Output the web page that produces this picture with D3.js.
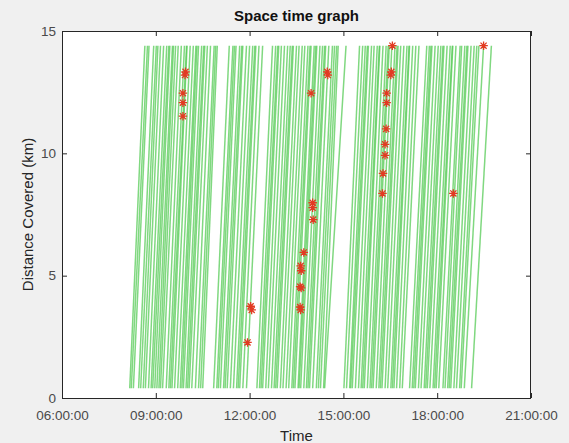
<!DOCTYPE html>
<html>
<head>
<meta charset="utf-8">
<script src="https://cdn.jsdelivr.net/npm/d3@7"></script>
<style>
  body { margin: 0; background: #f0f0f0; }
  text { font-family: "Liberation Sans", Arial, Helvetica, sans-serif; }
</style>
</head>
<body>
<svg id="chart" width="569" height="443"></svg>
<script>
// Vehicle trips: time at the start of the route and time at its end
const departures = [
  "08:10","08:13","08:17","08:27","08:31","08:36","08:40","08:46","08:51","08:54",
  "08:58","09:02","09:06","09:09","09:13","09:20","09:25","09:28","09:31","09:36",
  "09:42","09:47","09:50","09:53","09:58","10:01","10:04","10:09","10:16","10:22",
  "10:26","10:30",
  "10:51","10:57","11:00","11:04","11:10","11:13","11:17","11:23","11:29","11:35",
  "11:38","11:41","11:47","11:54",
  "12:14","12:19","12:22","12:25","12:31","12:36","12:42","12:47","12:50","12:53",
  "12:59","13:04","13:10","13:15","13:21","13:24","13:27","13:33","13:35","13:38",
  "13:44","13:49","13:52","13:55","14:01","14:08","14:12","14:16","14:22","14:24",
  "15:01","15:06","15:12","15:14","15:17","15:23","15:29","15:34","15:37","15:40",
  "15:46","15:51","15:54","15:57","16:03","16:08","16:11","16:14","16:20","16:25",
  "16:31","16:34","16:37","16:42","16:48","16:53",
  "17:07","17:12","17:15","17:18","17:24","17:29","17:35","17:38","17:41","17:46",
  "17:52","17:55","17:58","18:03","18:11","18:15","18:20","18:23","18:26","18:32",
  "18:37","18:43","18:46","18:52","19:06"
];
const arrivals = [
  "08:39","08:44","08:47","08:56","09:01","09:04","09:09","09:15","09:21","09:25",
  "09:27","09:32","09:34","09:38","09:43","09:49","09:55","09:59","10:00","10:06",
  "10:12","10:17","10:19","10:22","10:28","10:32","10:34","10:39","10:45","10:52",
  "10:55","10:58",
  "11:21","11:28","11:31","11:34","11:41","11:45","11:47","11:54","12:00","12:06",
  "12:10","12:12","12:18","12:25",
  "12:44","12:50","12:54","12:56","13:01","13:07","13:13","13:18","13:22","13:24",
  "13:30","13:35","13:41","13:46","13:52","13:56","13:58","14:04","14:07","14:09",
  "14:15","14:20","14:24","14:26","14:32","14:39","14:43","14:47","14:50","15:05",
  "15:31","15:37","15:42","15:46","15:48","15:54","15:59","16:05","16:09","16:10",
  "16:16","16:22","16:26","16:28","16:33","16:39","16:43","16:45","16:50","16:56",
  "17:02","17:06","17:07","17:13","17:19","17:25",
  "17:40","17:45","17:48","17:50","17:56","18:02","18:07","18:11","18:13","18:19",
  "18:25","18:29","18:30","18:36","18:44","18:47","18:53","18:57","18:59","19:05",
  "19:11","19:16","19:20","19:29","19:44"
];
// Route extent in km (first and last recorded positions)
const routeKm = [0.4, 14.4];

// Flagged events along the trajectories
const eventTimes = [
  "09:57","09:56","09:52","09:52","09:52",
  "11:56","12:02","12:04",
  "13:37","13:38","13:37","13:39","13:38","13:39","13:44",
  "14:01","14:01","14:02","13:58",
  "14:29","14:30",
  "16:34","16:32","16:31","16:23","16:23","16:22","16:20","16:20","16:16","16:15",
  "18:31","19:29"
];
const eventKm = [
  13.33, 13.2, 12.46, 12.07, 11.52,
  2.27, 3.75, 3.6,
  3.72, 3.6, 4.55, 4.5, 5.4, 5.2, 5.95,
  7.98, 7.78, 7.29, 12.46,
  13.33, 13.2,
  14.4, 13.33, 13.2, 12.46, 12.07, 11.0, 10.37, 9.92, 9.18, 8.36,
  8.36, 14.4
];

const timeTicks = ["06:00","09:00","12:00","15:00","18:00","21:00"];
const kmTicks = [0, 5, 10, 15];

const parseClock = d3.timeParse("%Y-%m-%d %H:%M");
const at = s => parseClock("2020-01-01 " + s);

const svg = d3.select("#chart");
const W = 569, H = 443;
const box = { left: 62, right: 531, top: 31, bottom: 398 };

svg.append("rect").attr("width", W).attr("height", H).attr("fill", "#f0f0f0");

const x = d3.scaleTime()
  .domain([at(timeTicks[0]), at(timeTicks[timeTicks.length - 1])])
  .range([box.left, box.right]);
const y = d3.scaleLinear()
  .domain([kmTicks[0], kmTicks[kmTicks.length - 1]])
  .range([box.bottom, box.top]);

// plot area
svg.append("rect")
  .attr("x", box.left).attr("y", box.top)
  .attr("width", box.right - box.left).attr("height", box.bottom - box.top)
  .attr("fill", "#ffffff");

// trajectories
const trips = departures.map((d, i) => [
  [at(d), routeKm[0]],
  [at(arrivals[i]), routeKm[1]]
]);
const line = d3.line().x(p => x(p[0])).y(p => y(p[1]));
svg.append("g")
  .selectAll("path")
  .data(trips)
  .join("path")
  .attr("d", line)
  .attr("fill", "none")
  .attr("stroke", "#55cb55")
  .attr("stroke-opacity", 0.75)
  .attr("stroke-width", 1.5);

// asterisk marker: plus and cross overlaid
const asterisk = {
  draw(ctx, size) {
    const r = Math.sqrt(size) / 2;
    const q = r * 0.72;
    ctx.moveTo(-r, 0); ctx.lineTo(r, 0);
    ctx.moveTo(0, -r); ctx.lineTo(0, r);
    ctx.moveTo(-q, -q); ctx.lineTo(q, q);
    ctx.moveTo(-q, q); ctx.lineTo(q, -q);
  }
};
svg.append("g")
  .selectAll("path")
  .data(eventTimes.map((t, i) => [at(t), eventKm[i]]))
  .join("path")
  .attr("transform", d => `translate(${x(d[0])},${y(d[1])})`)
  .attr("d", d3.symbol(asterisk, 72))
  .attr("fill", "none")
  .attr("stroke", "#e23a22")
  .attr("stroke-width", 1.3);

// axes (ticks point inward, box on)
const fmt = d3.timeFormat("%H:%M:%S");
const tickVals = timeTicks.map(at);
const axisColor = "#262626";

const gx = svg.append("g").attr("transform", `translate(0,${box.bottom})`)
  .call(d3.axisBottom(x).tickValues(tickVals).tickFormat(fmt)
    .tickSizeInner(-5).tickSizeOuter(0).tickPadding(12));
const gxTop = svg.append("g").attr("transform", `translate(0,${box.top})`)
  .call(d3.axisTop(x).tickValues(tickVals).tickFormat("")
    .tickSizeInner(-5).tickSizeOuter(0));
const gy = svg.append("g").attr("transform", `translate(${box.left},0)`)
  .call(d3.axisLeft(y).tickValues(kmTicks).tickSizeInner(-5).tickSizeOuter(0).tickPadding(6));
const gyRight = svg.append("g").attr("transform", `translate(${box.right},0)`)
  .call(d3.axisRight(y).tickValues(kmTicks).tickFormat("").tickSizeInner(-5).tickSizeOuter(0));

[gx, gxTop, gy, gyRight].forEach(g => {
  g.select(".domain").remove();
  g.selectAll("line").attr("stroke", axisColor);
  g.selectAll("text")
    .attr("fill", "#4a4a4a")
    .style("font-size", "13.5px")
    .style("font-family", "'Liberation Sans', Arial, sans-serif");
});

svg.append("rect")
  .attr("x", box.left + 0.5).attr("y", box.top + 0.5)
  .attr("width", box.right - box.left - 1).attr("height", box.bottom - box.top)
  .attr("fill", "none").attr("stroke", axisColor).attr("stroke-width", 1);

// titles
svg.append("text")
  .attr("x", (box.left + box.right) / 2).attr("y", 21)
  .attr("text-anchor", "middle")
  .style("font-size", "15px").style("font-weight", "bold")
  .attr("fill", "#111")
  .text("Space time graph");

svg.append("text")
  .attr("x", (box.left + box.right) / 2).attr("y", 441)
  .attr("text-anchor", "middle")
  .style("font-size", "15px")
  .attr("fill", "#262626")
  .text("Time");

svg.append("text")
  .attr("transform", `translate(33,${(box.top + box.bottom) / 2}) rotate(-90)`)
  .attr("text-anchor", "middle")
  .style("font-size", "15px")
  .attr("fill", "#262626")
  .text("Distance Covered (km)");
</script>
</body>
</html>
